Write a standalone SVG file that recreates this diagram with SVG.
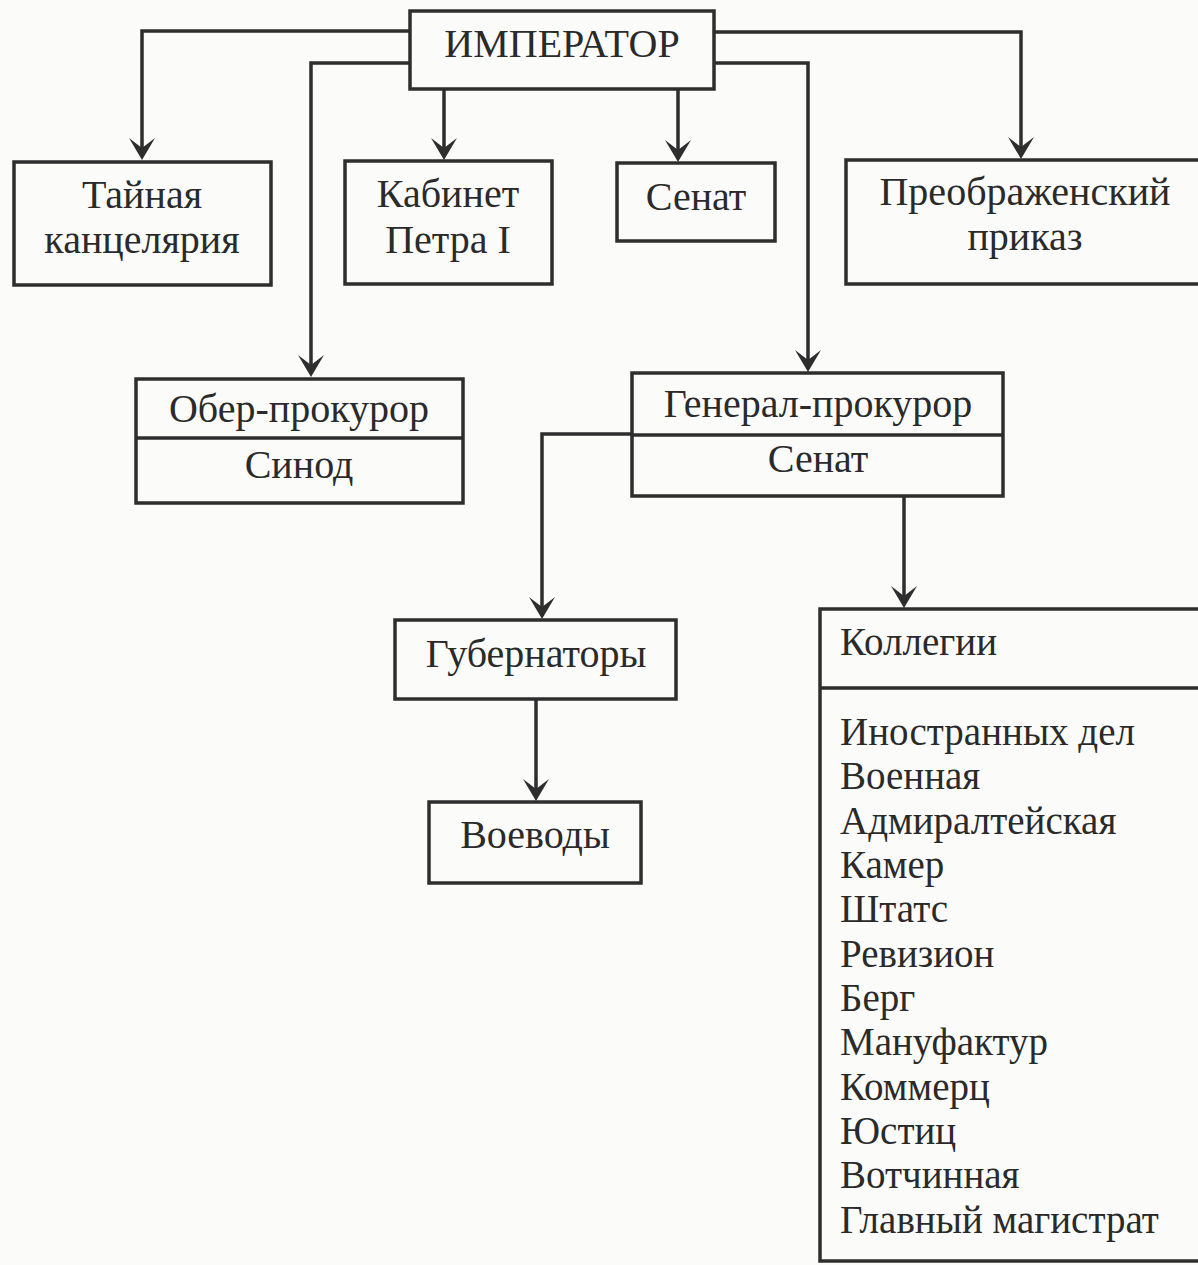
<svg xmlns="http://www.w3.org/2000/svg" width="1198" height="1265" viewBox="0 0 1198 1265">
<style>
.box{fill:none;stroke:#2e2e2e;stroke-width:3.5}
.ln{fill:none;stroke:#2e2e2e;stroke-width:3.5}
.t{font-family:"Liberation Serif","Times New Roman",serif;font-size:40px;fill:#2a2a2a;text-anchor:middle}
.l{font-family:"Liberation Serif","Times New Roman",serif;font-size:39px;fill:#2a2a2a;text-anchor:start}
</style>
<defs>
<marker id="arr" markerUnits="userSpaceOnUse" viewBox="-14 -15 26 30" markerWidth="26" markerHeight="30" refX="0" refY="0" orient="auto">
<path d="M10,0 L-12,-13 L-2,0 L-12,13 Z" fill="#2e2e2e"/>
</marker>
</defs>
<rect width="1198" height="1265" fill="#fbfbfa"/>
<g id="connectors">
<path class="ln" d="M410,31 H142 V150" marker-end="url(#arr)"/>
<path class="ln" d="M410,63 H311 V367" marker-end="url(#arr)"/>
<path class="ln" d="M444,89 V150" marker-end="url(#arr)"/>
<path class="ln" d="M678,89 V152" marker-end="url(#arr)"/>
<path class="ln" d="M714,63 H808 V362" marker-end="url(#arr)"/>
<path class="ln" d="M714,32 H1021 V149" marker-end="url(#arr)"/>
<path class="ln" d="M632,434 H542 V609" marker-end="url(#arr)"/>
<path class="ln" d="M904,496 V598" marker-end="url(#arr)"/>
<path class="ln" d="M536,699 V791" marker-end="url(#arr)"/>
</g>
<g id="imperator">
<rect class="box" x="410" y="11" width="304" height="78"/>
<text class="t" x="562" y="57">ИМПЕРАТОР</text>
</g>
<g id="tainaya">
<rect class="box" x="14" y="162" width="257" height="123"/>
<text class="t" x="142" y="208">Тайная</text>
<text class="t" x="142" y="253">канцелярия</text>
</g>
<g id="kabinet">
<rect class="box" x="345" y="161" width="207" height="123"/>
<text class="t" x="448" y="207">Кабинет</text>
<text class="t" x="448" y="253">Петра I</text>
</g>
<g id="senat-top">
<rect class="box" x="617" y="163" width="158" height="78"/>
<text class="t" x="696" y="210">Сенат</text>
</g>
<g id="preobrazhensky">
<rect class="box" x="846" y="160" width="370" height="124"/>
<text class="t" x="1025" y="205">Преображенский</text>
<text class="t" x="1025" y="250">приказ</text>
</g>
<g id="ober-prokuror">
<rect class="box" x="136" y="379" width="327" height="124"/>
<line class="box" x1="136" y1="438" x2="463" y2="438"/>
<text class="t" x="299" y="422">Обер-прокурор</text>
<text class="t" x="299" y="478">Синод</text>
</g>
<g id="general-prokuror">
<rect class="box" x="632" y="373" width="371" height="123"/>
<line class="box" x1="632" y1="435" x2="1003" y2="435"/>
<text class="t" x="818" y="417">Генерал-прокурор</text>
<text class="t" x="818" y="472">Сенат</text>
</g>
<g id="gubernatory">
<rect class="box" x="395" y="620" width="281" height="79"/>
<text class="t" x="536" y="667">Губернаторы</text>
</g>
<g id="voevody">
<rect class="box" x="429" y="802" width="212" height="81"/>
<text class="t" x="535" y="848">Воеводы</text>
</g>
<g id="kollegii">
<rect class="box" x="820" y="609" width="400" height="652"/>
<line class="box" x1="820" y1="688" x2="1220" y2="688"/>
<text class="l" x="840" y="655">Коллегии</text>
<text class="l" x="840" y="745">Иностранных дел</text>
<text class="l" x="840" y="789">Военная</text>
<text class="l" x="840" y="834">Адмиралтейская</text>
<text class="l" x="840" y="878">Камер</text>
<text class="l" x="840" y="922">Штатс</text>
<text class="l" x="840" y="967">Ревизион</text>
<text class="l" x="840" y="1011">Берг</text>
<text class="l" x="840" y="1055">Мануфактур</text>
<text class="l" x="840" y="1100">Коммерц</text>
<text class="l" x="840" y="1144">Юстиц</text>
<text class="l" x="840" y="1188">Вотчинная</text>
<text class="l" x="840" y="1233">Главный магистрат</text>
</g>
</svg>
